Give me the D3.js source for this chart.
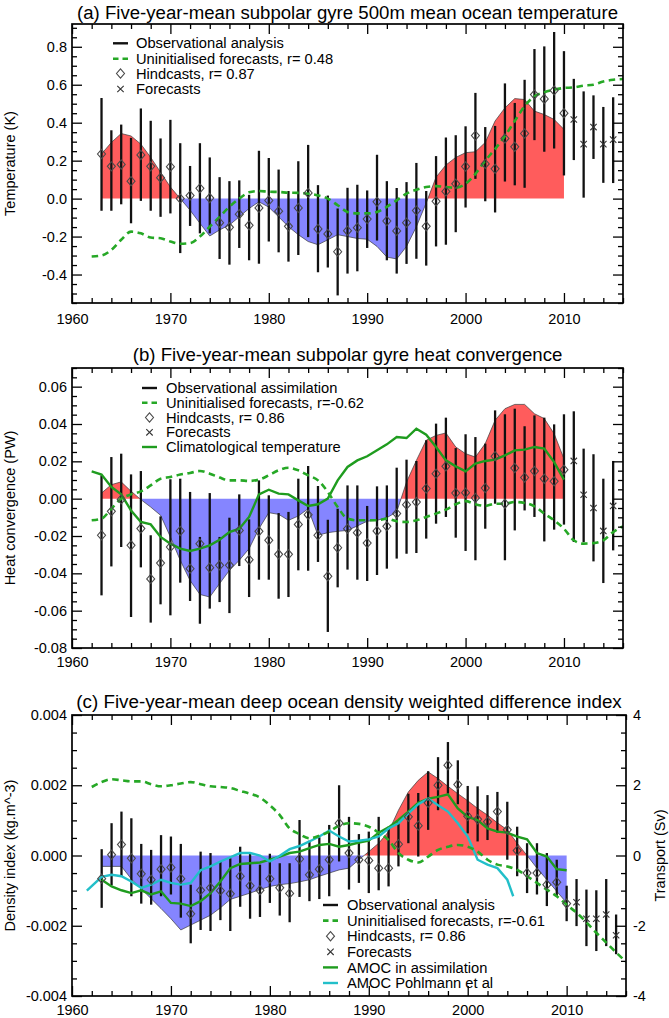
<!DOCTYPE html>
<html><head><meta charset="utf-8">
<script src="https://cdn.jsdelivr.net/npm/d3@7"></script>
<style>body{margin:0;background:#fff} svg{display:block}</style>
</head><body><svg id="chart" width="669" height="1018"></svg>
<script>
// ---------------- DATA ----------------
const hindYears=[1963,1964,1965,1966,1967,1968,1969,1970,1971,1972,1973,1974,1975,1976,1977,1978,1979,1980,1981,1982,1983,1984,1985,1986,1987,1988,1989,1990,1991,1992,1993,1994,1995,1996,1997,1998,1999,2000,2001,2002,2003,2004,2005,2006,2007,2008,2009,2010];
const fcYears=[2011,2012,2013,2014,2015];
const uninitYears=[1962,1963,1964,1965,1966,1967,1968,1969,1970,1971,1972,1973,1974,1975,1976,1977,1978,1979,1980,1981,1982,1983,1984,1985,1986,1987,1988,1989,1990,1991,1992,1993,1994,1995,1996,1997,1998,1999,2000,2001,2002,2003,2004,2005,2006,2007,2008,2009,2010,2011,2012,2013,2014,2015,2016];
const climYears=[1962,1963,1964,1965,1966,1967,1968,1969,1970,1971,1972,1973,1974,1975,1976,1977,1978,1979,1980,1981,1982,1983,1984,1985,1986,1987,1988,1989,1990,1991,1992,1993,1994,1995,1996,1997,1998,1999,2000,2001,2002,2003,2004,2005,2006,2007,2008,2009,2010];
const pohlYears=[1961.5,1963,1964,1965,1966,1967,1968,1969,1970,1971,1972,1973,1974,1975,1976,1977,1978,1979,1980,1981,1982,1983,1984,1985,1986,1987,1988,1989,1990,1991,1992,1993,1994,1995,1996,1997,1998,1999,2000,2001,2002,2003,2004,2004.6];
const xTickLabels=[1960,1970,1980,1990,2000,2010];

// Panel (a) temperature (K)
const aObs=[0.235,0.296,0.343,0.33,0.287,0.217,0.139,0.061,0.0,-0.061,-0.13,-0.197,-0.165,-0.139,-0.096,-0.052,-0.017,-0.045,-0.096,-0.148,-0.19,-0.226,-0.243,-0.217,-0.19,-0.2,-0.21,-0.214,-0.252,-0.308,-0.318,-0.252,-0.148,-0.023,0.113,0.177,0.217,0.242,0.247,0.296,0.409,0.478,0.527,0.522,0.461,0.443,0.417,0.365];
const aHind=[0.235,0.17,0.18,0.092,0.23,0.17,0.11,0.168,0.0,0.016,0.054,0.003,-0.127,-0.151,-0.082,-0.141,-0.049,-0.01,-0.066,-0.146,-0.049,0.03,-0.16,-0.186,-0.28,-0.169,-0.153,-0.108,-0.017,-0.118,-0.17,-0.127,-0.063,-0.146,-0.014,0.038,0.078,0.169,0.332,0.183,0.157,0.317,0.273,0.343,0.548,0.525,0.57,0.45];
const aHindHi=[0.53,0.36,0.39,0.32,0.475,0.41,0.317,0.415,0.292,0.172,0.292,0.217,0.113,0.092,0.096,0.02,0.252,0.214,0.153,0.04,0.197,0.283,0.071,0.016,-0.052,0.057,0.073,0.043,0.231,0.092,0.056,0.087,0.188,0.04,0.224,0.322,0.334,0.381,0.557,0.377,0.383,0.607,0.504,0.626,0.788,0.802,0.878,0.777];
const aHindLo=[-0.064,-0.064,-0.03,-0.13,-0.012,-0.064,-0.096,-0.078,-0.287,-0.144,-0.183,-0.183,-0.318,-0.348,-0.26,-0.325,-0.343,-0.226,-0.283,-0.332,-0.297,-0.203,-0.388,-0.363,-0.51,-0.395,-0.383,-0.26,-0.221,-0.325,-0.395,-0.344,-0.317,-0.353,-0.252,-0.243,-0.177,-0.047,0.104,-0.014,-0.073,0.09,0.07,0.057,0.308,0.247,0.264,0.122];
const aFc=[0.417,0.287,0.377,0.287,0.311];
const aFcHi=[0.631,0.565,0.544,0.483,0.534];
const aFcLo=[0.203,0.005,0.209,0.083,0.082];
const aUninit=[-0.305,-0.30,-0.27,-0.217,-0.174,-0.183,-0.205,-0.209,-0.226,-0.238,-0.235,-0.2,-0.148,-0.096,-0.043,0.0,0.033,0.04,0.036,0.035,0.031,0.03,0.026,0.017,0.0,-0.035,-0.07,-0.078,-0.078,-0.07,-0.043,-0.009,0.026,0.047,0.061,0.066,0.061,0.057,0.078,0.13,0.2,0.261,0.33,0.409,0.487,0.539,0.56,0.574,0.583,0.586,0.595,0.6,0.617,0.626,0.63];
const aYTicks=[-0.4,-0.2,0.0,0.2,0.4,0.6,0.8];

// Panel (b) heat convergence (PW)
const bObs=[0.003,0.0075,0.009,0.004,-0.0005,-0.0045,-0.0089,-0.0205,-0.033,-0.0438,-0.0513,-0.0527,-0.0455,-0.0384,-0.033,-0.0268,-0.0161,-0.0075,-0.0084,-0.0116,-0.0093,-0.0054,-0.0196,-0.0182,-0.0175,-0.017,-0.0146,-0.0121,-0.0116,-0.0102,-0.0071,0.0089,0.0205,0.0313,0.0339,0.0352,0.0277,0.0241,0.0223,0.0295,0.042,0.0482,0.0505,0.0505,0.0455,0.0429,0.0348,0.0214];
const bHind=[-0.0196,-0.0068,-0.0004,-0.025,-0.016,-0.043,-0.0345,-0.0259,-0.0173,-0.0375,-0.0241,-0.037,-0.0357,-0.0357,-0.017,-0.0327,-0.0175,-0.0223,-0.0298,-0.0298,-0.0138,-0.0086,-0.0196,-0.0416,-0.0263,-0.0161,-0.0182,-0.0238,-0.0173,-0.0148,-0.008,-0.0032,-0.0018,0.0054,0.0134,0.0173,0.003,0.0032,0.0004,0.0057,0.0227,-0.0027,0.0164,0.0113,0.0148,0.0107,0.0093,0.0155];
const bHindHi=[0.0125,0.0223,0.0241,0.013,0.0148,-0.0196,-0.0095,0.0104,0.0107,0.0036,-0.0205,0.003,-0.0205,-0.0102,0.0023,-0.0111,0.0098,0.0018,-0.0077,-0.0071,0.0107,0.0175,0.0068,-0.0113,-0.0054,0.0071,0.0071,-0.0039,0.0066,0.0071,0.0166,0.0209,0.0202,0.0313,0.0402,0.0434,0.0271,0.0345,0.033,0.0295,0.0473,0.0452,0.0482,0.0388,0.0446,0.0434,0.0398,0.0452];
const bHindLo=[-0.0518,-0.0363,-0.0259,-0.0634,-0.0368,-0.0664,-0.0566,-0.0625,-0.045,-0.0548,-0.067,-0.0589,-0.0554,-0.0613,-0.0361,-0.0527,-0.0434,-0.0434,-0.0536,-0.0527,-0.0384,-0.0386,-0.0339,-0.0714,-0.0475,-0.038,-0.0434,-0.0441,-0.0409,-0.0375,-0.0321,-0.0295,-0.0291,-0.0214,-0.0134,-0.0098,-0.0209,-0.028,-0.033,-0.0161,-0.0027,-0.033,-0.017,-0.0063,-0.0098,-0.0229,-0.0166,-0.0139];
const bFc=[0.0202,0.0021,-0.005,-0.0173,-0.0039];
const bFcHi=[0.0468,0.0268,0.0238,0.0107,0.0202];
const bFcLo=[-0.0232,-0.0232,-0.0336,-0.0452,-0.0277];
const bUninit=[-0.0116,-0.0107,-0.0054,0.0,0.0023,0.0039,0.0071,0.0107,0.0116,0.0129,0.0138,0.0148,0.0134,0.0113,0.0098,0.0098,0.0095,0.0102,0.0125,0.0152,0.0166,0.0152,0.0125,0.0098,0.0036,-0.0045,-0.0107,-0.0116,-0.0116,-0.0116,-0.0107,-0.0121,-0.0125,-0.0116,-0.0098,-0.008,-0.0059,-0.003,-0.0013,-0.003,-0.0039,-0.0027,-0.0027,-0.0018,-0.0023,-0.0041,-0.008,-0.0116,-0.0161,-0.0223,-0.0241,-0.0238,-0.0223,-0.0179,-0.0148];
const bClim=[0.0146,0.0129,0.0063,0.0023,-0.0063,-0.0125,-0.0138,-0.0205,-0.0241,-0.0268,-0.028,-0.0268,-0.025,-0.022,-0.0179,-0.0161,-0.0098,0.0023,0.0048,0.0027,0.0023,-0.0009,-0.0039,-0.003,0.0,0.0098,0.017,0.0205,0.0227,0.0259,0.0291,0.033,0.0325,0.0375,0.0343,0.0277,0.0205,0.0173,0.0146,0.0188,0.0202,0.0209,0.0232,0.0259,0.0263,0.0277,0.0268,0.0196,0.0102];
const bYTicks=[-0.08,-0.06,-0.04,-0.02,0.0,0.02,0.04,0.06];

// Panel (c) density index (kg m^-3) and transport (Sv)
const cObs=[-0.00031,-0.00031,-0.00031,-0.00067,-0.00095,-0.00123,-0.00151,-0.0018,-0.00212,-0.00198,-0.00184,-0.0017,-0.00149,-0.00125,-0.00116,-0.00107,-0.00097,-0.00088,-0.00083,-0.0008,-0.00075,-0.00069,-0.00059,-0.0005,-0.00041,-0.00036,-0.00012,0.00011,0.00035,0.00068,0.00129,0.00181,0.00214,0.00238,0.00219,0.00197,0.00176,0.00156,0.00134,0.00115,0.00093,0.00073,0.00035,0.0,-0.00036,-0.00069,-0.00102,-0.00135];
const cHind=[-0.00066,0.00002,0.00031,-0.00008,-0.00052,-0.00069,-0.00039,-0.00034,-0.00066,-0.00166,-0.00099,-0.00092,-0.001,-0.00109,-0.00059,-0.00086,-0.00099,-0.00066,-0.00092,-0.00108,-0.0001,-0.00055,-0.00039,-0.00012,0.00092,0.00007,-0.00012,-0.00014,-0.00036,-0.00036,0.00032,0.0011,0.00085,0.0015,0.002,0.00257,0.00202,0.00112,0.00103,0.00096,0.00125,0.00073,0.00014,-0.0005,-0.0005,-0.00083,-0.00076,-0.00137];
const cHindHi=[0.00018,0.00092,0.00125,0.00106,0.00033,0.00016,0.00058,0.00054,0.00033,-0.00083,0.00011,0.00007,-0.00017,-0.00008,0.00025,0.00008,-0.00026,0.00005,-0.00022,-0.00022,0.00101,0.00042,0.00052,0.00087,0.002,0.0011,0.00061,0.00068,0.0011,0.00082,0.00096,0.00176,0.00178,0.0024,0.0028,0.00323,0.00271,0.00198,0.00197,0.00172,0.00181,0.00153,0.00082,0.00035,0.00035,0.00007,-0.00012,-0.00086];
const cHindLo=[-0.00149,-0.00085,-0.00059,-0.00116,-0.00137,-0.0014,-0.00116,-0.00111,-0.00177,-0.0025,-0.00212,-0.00215,-0.00184,-0.00215,-0.00146,-0.0018,-0.00175,-0.00135,-0.00171,-0.0019,-0.00118,-0.0013,-0.00124,-0.00116,-0.00017,-0.00097,-0.00078,-0.00107,-0.00099,-0.00088,-0.00031,0.00035,-0.00003,0.00073,0.00129,0.00176,0.00146,0.00063,0.0004,0.00044,0.00065,-0.00012,-0.00059,-0.00107,-0.00111,-0.00144,-0.00116,-0.00187];
const cFc=[-0.00133,-0.0018,-0.0018,-0.00168,-0.00227];
const cFcHi=[-0.00067,-0.00097,-0.00099,-0.00067,-0.00168];
const cFcLo=[-0.00201,-0.00258,-0.00272,-0.00258,-0.00281];
const cUninit=[0.00195,0.00209,0.00217,0.00214,0.00211,0.00211,0.00203,0.00197,0.002,0.00205,0.00209,0.00203,0.00197,0.00195,0.00192,0.00184,0.00176,0.00165,0.00143,0.00115,0.00077,0.00061,0.00049,0.00056,0.00068,0.00085,0.00092,0.0009,0.00082,0.00065,0.00044,0.00007,-0.00012,-0.0002,-0.00003,0.00016,0.00025,0.0003,0.00025,0.00011,-0.00012,-0.00026,-0.00031,-0.00041,-0.00059,-0.00078,-0.00097,-0.00116,-0.0014,-0.00163,-0.0019,-0.0022,-0.00248,-0.00276,-0.00303];
const cAmocAssim=[-0.69,-0.88,-0.99,-1.07,-0.99,-1.11,-1.02,-1.35,-1.37,-1.44,-1.30,-1.07,-0.74,-0.36,-0.24,-0.22,-0.20,-0.12,-0.03,0.07,0.11,0.21,0.30,0.33,0.25,0.30,0.37,0.42,0.65,0.80,1.01,1.25,1.50,1.62,1.67,1.74,1.34,1.10,1.01,0.77,0.68,0.65,0.54,0.46,0.07,-0.03,-0.39,-0.42];
const cAmocPohl=[-1.0,-0.61,-0.55,-0.59,-0.74,-0.92,-0.83,-0.69,-0.78,-0.83,-0.78,-0.42,-0.31,-0.17,-0.05,0.07,0.07,0.0,-0.17,-0.01,0.18,0.27,0.40,0.54,0.71,0.54,0.40,0.42,0.46,0.54,0.77,0.92,1.20,1.46,1.62,1.43,1.25,0.92,0.54,-0.12,-0.26,-0.36,-0.69,-1.16];
const cYTicks=[-0.004,-0.002,0.0,0.002,0.004];
const cSvTicks=[-4,-2,0,2,4];

// ---------------- DRAWING ----------------
const FONT='"Liberation Sans", Arial, Helvetica, sans-serif';
const RED='#ff5c5c', BLUE='#8585ff', GREEN_D='#26a826', GREEN_S='#1f9c1f', CYAN='#22bfc9';
const svg=d3.select('#chart');

const panels=[
 {id:'a',title:'(a) Five-year-mean subpolar gyre 500m mean ocean temperature',titleY:19,titleW:541,
  x0:72,x1:623,y0:24,y1:303,yDom:[-0.55,0.92],yTicks:aYTicks,yMinor:0.05,fmt:v=>v.toFixed(1),xPad:10.5,
  yLabel:'Temperature (K)',obs:aObs,hind:aHind,hi:aHindHi,lo:aHindLo,fc:aFc,fcHi:aFcHi,fcLo:aFcLo,uninit:aUninit,
  legend:{sx:113,tx:136,y:[43.3,58.8,73.5,89],items:[['obs','Observational analysis'],['dash','Uninitialised forecasts, r= 0.48'],['hind','Hindcasts, r= 0.87'],['fc','Forecasts']]}},
 {id:'b',title:'(b) Five-year-mean subpolar gyre heat convergence',titleY:361,titleW:430,
  x0:72,x1:623,y0:368,y1:648,yDom:[-0.08,0.07],yTicks:bYTicks,yMinor:0.005,fmt:v=>v.toFixed(2),xPad:8.5,
  yLabel:'Heat convergence (PW)',obs:bObs,hind:bHind,hi:bHindHi,lo:bHindLo,fc:bFc,fcHi:bFcHi,fcLo:bFcLo,uninit:bUninit,
  legend:{sx:142,tx:166,y:[388,402.8,417.5,432.3,447],items:[['obs','Observational assimilation'],['dash','Uninitialised forecasts, r=-0.62'],['hind','Hindcasts, r= 0.86'],['fc','Forecasts'],['green','Climatological temperature']]}},
 {id:'c',title:'(c) Five-year-mean deep ocean density weighted difference index',titleY:708,titleW:546,
  x0:72,x1:626,y0:715,y1:996,yDom:[-0.004,0.004],yTicks:cYTicks,yMinor:0.0005,fmt:v=>v.toFixed(3),xPad:8.5,
  yLabel:'Density index (kg.m^-3)',obs:cObs,hind:cHind,hi:cHindHi,lo:cHindLo,fc:cFc,fcHi:cFcHi,fcLo:cFcLo,uninit:cUninit,
  legend:{sx:323,tx:347,y:[905,920.6,936.2,951.8,967.4,983],items:[['obs','Observational analysis'],['dash','Uninitialised forecasts, r=-0.61'],['hind','Hindcasts, r= 0.86'],['fc','Forecasts'],['green','AMOC in assimilation'],['cyan','AMOC Pohlmann et al']]}}
];

function splitZero(xs,vs){
  const pts=[];
  for(let i=0;i<xs.length;i++){
    pts.push([xs[i],vs[i]]);
    if(i<xs.length-1 && vs[i]*vs[i+1]<0){
      const t=vs[i]/(vs[i]-vs[i+1]);
      pts.push([xs[i]+t*(xs[i+1]-xs[i]),0]);
    }
  }
  return pts;
}
function diamondPath(cx,cy){return `M${cx},${cy-4.6}L${cx+4},${cy}L${cx},${cy+4.6}L${cx-4},${cy}Z`;}
function xPath(cx,cy){const s=3.2;return `M${cx-s},${cy-s}L${cx+s},${cy+s}M${cx-s},${cy+s}L${cx+s},${cy-s}`;}

panels.forEach(p=>{
  const x=d3.scaleLinear().domain([1960,2016]).range([p.x0,p.x1]);
  const y=d3.scaleLinear().domain(p.yDom).range([p.y1,p.y0]);
  const g=svg.append('g');
  const clipId='clip'+p.id;
  svg.append('clipPath').attr('id',clipId).append('rect').attr('x',p.x0).attr('y',p.y0).attr('width',p.x1-p.x0).attr('height',p.y1-p.y0);
  const plot=g.append('g').attr('clip-path',`url(#${clipId})`);

  const pts=splitZero(hindYears,p.obs);
  plot.append('path').datum(pts).attr('fill',RED)
    .attr('d',d3.area().x(d=>x(d[0])).y0(y(0)).y1(d=>y(Math.max(d[1],0))));
  plot.append('path').datum(pts).attr('fill',BLUE)
    .attr('d',d3.area().x(d=>x(d[0])).y0(y(0)).y1(d=>y(Math.min(d[1],0))));
  plot.append('path').datum(pts).attr('fill','none').attr('stroke','#3a3a3a').attr('stroke-width',0.7)
    .attr('d',d3.line().x(d=>x(d[0])).y(d=>y(d[1])));

  plot.selectAll('.hb').data(hindYears).join('line').attr('stroke','#111').attr('stroke-width',2.3)
    .attr('x1',d=>x(d)).attr('x2',d=>x(d)).attr('y1',(d,i)=>y(p.hi[i])).attr('y2',(d,i)=>y(p.lo[i]));
  plot.selectAll('.fb').data(fcYears).join('line').attr('stroke','#111').attr('stroke-width',2.3)
    .attr('x1',d=>x(d)).attr('x2',d=>x(d)).attr('y1',(d,i)=>y(p.fcHi[i])).attr('y2',(d,i)=>y(p.fcLo[i]));

  if(p.id==='b'){
    plot.append('path').datum(climYears.map((yr,i)=>[yr,bClim[i]])).attr('fill','none').attr('stroke',GREEN_S).attr('stroke-width',2.4)
      .attr('d',d3.line().x(d=>x(d[0])).y(d=>y(d[1])));
  }
  if(p.id==='c'){
    const ySv=d3.scaleLinear().domain([-4,4]).range([p.y1,p.y0]);
    plot.append('path').datum(hindYears.map((yr,i)=>[yr,cAmocAssim[i]])).attr('fill','none').attr('stroke',GREEN_S).attr('stroke-width',2.4)
      .attr('d',d3.line().x(d=>x(d[0])).y(d=>ySv(d[1])));
    plot.append('path').datum(pohlYears.map((yr,i)=>[yr,cAmocPohl[i]])).attr('fill','none').attr('stroke',CYAN).attr('stroke-width',2.4)
      .attr('d',d3.line().x(d=>x(d[0])).y(d=>ySv(d[1])));
  }
  plot.append('path').datum(uninitYears.map((yr,i)=>[yr,p.uninit[i]])).attr('fill','none').attr('stroke',GREEN_D)
    .attr('stroke-width',2.6).attr('stroke-dasharray','6.5,4.5')
    .attr('d',d3.line().curve(d3.curveMonotoneX).x(d=>x(d[0])).y(d=>y(d[1])));

  plot.selectAll('.hd').data(hindYears).join('path').attr('fill','none').attr('stroke','#4a4a4a').attr('stroke-width',1.1)
    .attr('d',(d,i)=>diamondPath(x(d),y(p.hind[i])));
  plot.selectAll('.fx').data(fcYears).join('path').attr('fill','none').attr('stroke','#333').attr('stroke-width',1.1)
    .attr('d',(d,i)=>xPath(x(d),y(p.fc[i])));

  const ax=g.append('g').attr('font-family',FONT);
  const styleAxis=sel=>{sel.select('.domain').remove();sel.selectAll('line').attr('stroke','#000').attr('stroke-width',1.3);
    sel.selectAll('text').attr('font-family',FONT).attr('font-size',14.5).attr('fill','#000');};
  const minorX=d3.range(1960,2017,2).filter(v=>v%10!==0);
  ax.append('g').attr('transform',`translate(0,${p.y1})`).call(d3.axisBottom(x).tickValues(xTickLabels).tickSize(-10).tickPadding(p.xPad).tickFormat(d3.format('d'))).call(styleAxis);
  ax.append('g').attr('transform',`translate(0,${p.y1})`).call(d3.axisBottom(x).tickValues(minorX).tickSize(-5).tickFormat('')).call(styleAxis);
  ax.append('g').attr('transform',`translate(0,${p.y0})`).call(d3.axisTop(x).tickValues(xTickLabels).tickSize(-10).tickFormat('')).call(styleAxis);
  ax.append('g').attr('transform',`translate(0,${p.y0})`).call(d3.axisTop(x).tickValues(minorX).tickSize(-5).tickFormat('')).call(styleAxis);
  const minorY=d3.range(-40,41).map(k=>+(k*p.yMinor).toFixed(6)).filter(v=>v>=p.yDom[0]-1e-9&&v<=p.yDom[1]+1e-9&&!p.yTicks.some(t=>Math.abs(t-v)<1e-9));
  ax.append('g').attr('transform',`translate(${p.x0},0)`).call(d3.axisLeft(y).tickValues(p.yTicks).tickSize(-10).tickPadding(5).tickFormat(p.fmt)).call(styleAxis);
  ax.append('g').attr('transform',`translate(${p.x0},0)`).call(d3.axisLeft(y).tickValues(minorY).tickSize(-5).tickFormat('')).call(styleAxis);
  if(p.id!=='c'){
    ax.append('g').attr('transform',`translate(${p.x1},0)`).call(d3.axisRight(y).tickValues(p.yTicks).tickSize(-10).tickFormat('')).call(styleAxis);
    ax.append('g').attr('transform',`translate(${p.x1},0)`).call(d3.axisRight(y).tickValues(minorY).tickSize(-5).tickFormat('')).call(styleAxis);
  } else {
    const ySv=d3.scaleLinear().domain([-4,4]).range([p.y1,p.y0]);
    const minorSv=d3.range(-4,4.01,0.5).filter(v=>!cSvTicks.includes(v));
    ax.append('g').attr('transform',`translate(${p.x1},0)`).call(d3.axisRight(ySv).tickValues(cSvTicks).tickSize(-10).tickPadding(7).tickFormat(v=>String(v))).call(styleAxis);
    ax.append('g').attr('transform',`translate(${p.x1},0)`).call(d3.axisRight(ySv).tickValues(minorSv).tickSize(-5).tickFormat('')).call(styleAxis);
    svg.append('text').attr('transform',`translate(665,${(p.y0+p.y1)/2}) rotate(-90)`).attr('text-anchor','middle')
      .attr('font-family',FONT).attr('font-size',14.5).text('Transport (Sv)');
  }
  g.append('rect').attr('x',p.x0).attr('y',p.y0).attr('width',p.x1-p.x0).attr('height',p.y1-p.y0)
    .attr('fill','none').attr('stroke','#000').attr('stroke-width',1.7);
  svg.append('text').attr('transform',`translate(15,${(p.y0+p.y1)/2}) rotate(-90)`).attr('text-anchor','middle')
    .attr('font-family',FONT).attr('font-size',14.5).text(p.yLabel);
  const t=svg.append('text').attr('x',(p.x0+p.x1)/2).attr('y',p.titleY).attr('text-anchor','middle')
    .attr('font-family',FONT).attr('font-size',17).text(p.title);
  const w=t.node().getComputedTextLength(); t.attr('font-size',17*p.titleW/w);

  const L=p.legend, lg=svg.append('g');
  L.items.forEach(([type,label],i)=>{
    const cy=L.y[i], cx=L.sx+7.5;
    if(type==='obs') lg.append('line').attr('x1',L.sx).attr('x2',L.sx+15).attr('y1',cy).attr('y2',cy).attr('stroke','#111').attr('stroke-width',2.4);
    if(type==='dash') lg.append('line').attr('x1',L.sx).attr('x2',L.sx+15).attr('y1',cy).attr('y2',cy).attr('stroke',GREEN_D).attr('stroke-width',2.6).attr('stroke-dasharray','5.5,4');
    if(type==='green') lg.append('line').attr('x1',L.sx).attr('x2',L.sx+15).attr('y1',cy).attr('y2',cy).attr('stroke',GREEN_S).attr('stroke-width',2.4);
    if(type==='cyan') lg.append('line').attr('x1',L.sx).attr('x2',L.sx+15).attr('y1',cy).attr('y2',cy).attr('stroke',CYAN).attr('stroke-width',2.4);
    if(type==='hind') lg.append('path').attr('d',diamondPath(cx,cy)).attr('fill','none').attr('stroke','#4a4a4a').attr('stroke-width',1.1);
    if(type==='fc') lg.append('path').attr('d',xPath(cx,cy)).attr('fill','none').attr('stroke','#333').attr('stroke-width',1.1);
    lg.append('text').attr('x',L.tx).attr('y',cy+5.1).attr('font-family',FONT).attr('font-size',14.7).text(label);
  });
});
</script></body></html>
